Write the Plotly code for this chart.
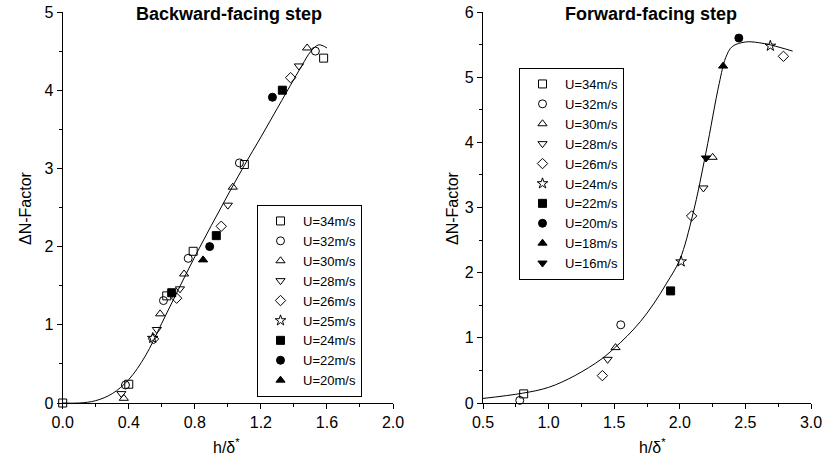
import plotly.graph_objects as go

# ---------------- Backward-facing step (left) ----------------
bfs_labels = ["U=34m/s", "U=32m/s", "U=30m/s", "U=28m/s", "U=26m/s",
              "U=25m/s", "U=24m/s", "U=22m/s", "U=20m/s"]
bfs_symbols = ["square-open", "circle-open", "triangle-up-open", "triangle-down-open",
               "diamond-open", "star-open", "square", "circle", "triangle-up"]
bfs_x = [
    [0.0, 0.40, 0.63, 0.79, 1.10, 1.58],
    [0.38, 0.61, 0.76, 1.07, 1.53],
    [0.37, 0.59, 0.735, 1.03, 1.48],
    [0.355, 0.57, 0.71, 1.00, 1.43],
    [0.55, 0.69, 0.96, 1.38],
    [0.545],
    [0.66, 0.93, 1.33],
    [0.89, 1.27],
    [0.85],
]
bfs_y = [
    [0.0, 0.24, 1.37, 1.94, 3.05, 4.41],
    [0.23, 1.31, 1.85, 3.07, 4.50],
    [0.06, 1.14, 1.65, 2.76, 4.54],
    [0.12, 0.94, 1.46, 2.53, 4.31],
    [0.82, 1.34, 2.26, 4.16],
    [0.83],
    [1.41, 2.14, 4.00],
    [2.00, 3.91],
    [1.83],
]
bfs_fit_x = [0.0, 0.1, 0.2, 0.3, 0.4, 0.5, 0.6, 0.7, 0.8, 0.9, 1.0, 1.1, 1.2, 1.3, 1.4, 1.45, 1.5, 1.55, 1.6]
bfs_fit_y = [0.0, 0.0, 0.03, 0.12, 0.30, 0.60, 1.02, 1.45, 1.87, 2.27, 2.66, 3.04, 3.40, 3.77, 4.14, 4.32, 4.49, 4.58, 4.54]

# ---------------- Forward-facing step (right) ----------------
ffs_labels = ["U=34m/s", "U=32m/s", "U=30m/s", "U=28m/s", "U=26m/s",
              "U=24m/s", "U=22m/s", "U=20m/s", "U=18m/s", "U=16m/s"]
ffs_symbols = ["square-open", "circle-open", "triangle-up-open", "triangle-down-open",
               "diamond-open", "star-open", "square", "circle", "triangle-up", "triangle-down"]
ffs_x = [
    [0.81],
    [0.78, 1.55],
    [1.51, 2.25],
    [1.45, 2.18],
    [1.41, 2.09, 2.79],
    [2.01, 2.69],
    [1.93],
    [2.45],
    [2.33],
    [2.20],
]
ffs_y = [
    [0.14],
    [0.04, 1.20],
    [0.85, 3.77],
    [0.67, 3.30],
    [0.42, 2.87, 5.32],
    [2.17, 5.48],
    [1.72],
    [5.60],
    [5.17],
    [3.76],
]
ffs_fit_x = [0.5, 0.8, 1.0, 1.2, 1.4, 1.5, 1.6, 1.7, 1.8, 1.9, 2.0, 2.1, 2.2, 2.3, 2.35, 2.4, 2.5, 2.6, 2.7, 2.86]
ffs_fit_y = [0.07, 0.15, 0.24, 0.42, 0.67, 0.84, 1.03, 1.25, 1.52, 1.84, 2.20, 2.90, 3.85, 4.90, 5.30, 5.47, 5.54, 5.53, 5.49, 5.40]

FONT = "Liberation Sans, Arial, Helvetica, sans-serif"
BLACK = "#000000"

W, H = 825, 464


def px(x):
    return x / W


def py(y):
    return (H - y) / H


fig = go.Figure()

fig.add_trace(go.Scatter(x=bfs_fit_x, y=bfs_fit_y, mode="lines", line=dict(color=BLACK, width=1, shape="spline"),
                         showlegend=False, xaxis="x", yaxis="y", hoverinfo="skip"))
for lab, sym, xs, ys in zip(bfs_labels, bfs_symbols, bfs_x, bfs_y):
    fig.add_trace(go.Scatter(x=xs, y=ys, mode="markers", name=lab, legend="legend",
                             marker=dict(symbol=sym, size=8, color=BLACK, line=dict(color=BLACK, width=1)),
                             cliponaxis=False, xaxis="x", yaxis="y"))

fig.add_trace(go.Scatter(x=ffs_fit_x, y=ffs_fit_y, mode="lines", line=dict(color=BLACK, width=1, shape="spline"),
                         showlegend=False, xaxis="x2", yaxis="y2", hoverinfo="skip"))
for lab, sym, xs, ys in zip(ffs_labels, ffs_symbols, ffs_x, ffs_y):
    fig.add_trace(go.Scatter(x=xs, y=ys, mode="markers", name=lab, legend="legend2",
                             marker=dict(symbol=sym, size=8, color=BLACK, line=dict(color=BLACK, width=1)),
                             cliponaxis=False, xaxis="x2", yaxis="y2"))

yd = [py(403), py(12)]
axis_common = dict(showline=True, linecolor=BLACK, linewidth=1.2, ticks="outside", ticklen=5,
                   tickwidth=1.2, tickcolor=BLACK, showgrid=False, zeroline=False, automargin=False,
                   tickfont=dict(family=FONT, size=16, color=BLACK))
minor_common = dict(ticks="outside", ticklen=3, tickwidth=1.2, tickcolor=BLACK, showgrid=False)
legend_common = dict(xanchor="left", yanchor="top", bordercolor=BLACK, borderwidth=1, bgcolor="white",
                     font=dict(family=FONT, size=13, color=BLACK), tracegroupgap=0,
                     itemwidth=35, entrywidth=76, entrywidthmode="pixels")

fig.update_layout(
    template="none",
    width=W, height=H, autosize=False,
    margin=dict(l=0, r=0, t=0, b=0, pad=0, autoexpand=False),
    paper_bgcolor="white", plot_bgcolor="white",
    font=dict(family=FONT, color=BLACK),
    xaxis=dict(domain=[px(62.7), px(393)], range=[0, 2.0], tick0=0, dtick=0.4, tickformat=".1f",
               minor=dict(dtick=0.2, **minor_common), anchor="y", **axis_common),
    yaxis=dict(domain=yd, range=[0, 5], tick0=0, dtick=1, minor=dict(dtick=0.5, **minor_common),
               anchor="x", **axis_common),
    xaxis2=dict(domain=[px(483), px(811)], range=[0.5, 3.0], tick0=0.5, dtick=0.5, tickformat=".1f",
                minor=dict(dtick=0.25, **minor_common), anchor="y2", **axis_common),
    yaxis2=dict(domain=yd, range=[0, 6], tick0=0, dtick=1, minor=dict(dtick=0.5, **minor_common),
                anchor="x2", **axis_common),
    legend=dict(x=px(257), y=py(205), **legend_common),
    legend2=dict(x=px(519), y=py(68), **legend_common),
    annotations=[
        dict(text="<b>Backward-facing step</b>", x=px(229), y=py(14), xref="paper", yref="paper",
             showarrow=False, xanchor="center", yanchor="middle", font=dict(family=FONT, size=18, color=BLACK)),
        dict(text="<b>Forward-facing step</b>", x=px(651), y=py(14), xref="paper", yref="paper",
             showarrow=False, xanchor="center", yanchor="middle", font=dict(family=FONT, size=18, color=BLACK)),
        dict(text="ΔN-Factor", x=px(25), y=py(208), xref="paper", yref="paper", textangle=-90,
             showarrow=False, xanchor="center", yanchor="middle", font=dict(family=FONT, size=16, color=BLACK)),
        dict(text="ΔN-Factor", x=px(452), y=py(208), xref="paper", yref="paper", textangle=-90,
             showarrow=False, xanchor="center", yanchor="middle", font=dict(family=FONT, size=16, color=BLACK)),
        dict(text="h/δ<sup>*</sup>", x=px(226), y=py(446), xref="paper", yref="paper",
             showarrow=False, xanchor="center", yanchor="middle", font=dict(family=FONT, size=16, color=BLACK)),
        dict(text="h/δ<sup>*</sup>", x=px(652), y=py(446), xref="paper", yref="paper",
             showarrow=False, xanchor="center", yanchor="middle", font=dict(family=FONT, size=16, color=BLACK)),
    ],
)

fig.write_html("out.html", config={"displayModeBar": False},
               post_script="document.body.style.margin='0px';")
